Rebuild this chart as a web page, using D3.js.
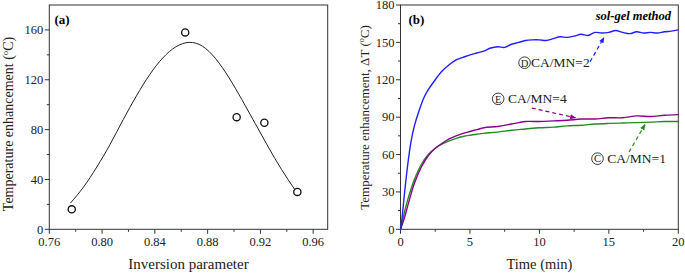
<!DOCTYPE html>
<html>
<head>
<meta charset="utf-8">
<script src="https://cdn.jsdelivr.net/npm/d3@7"></script>
<style>
    body { margin: 0; background: #fff; }
    svg { font-family: "Liberation Serif", "Times New Roman", serif; }
</style>
</head>
<body>
<svg id="chart" width="685" height="273"></svg>
<script>
const invParam = [0.777, 0.863, 0.902, 0.923, 0.948]
const tempEnh = [16, 158, 90, 85.5, 30]
const fitX = [0.776, 0.786, 0.796, 0.806, 0.816, 0.826, 0.836, 0.846, 0.856, 0.866, 0.876, 0.886, 0.896, 0.906, 0.916, 0.926, 0.936, 0.946]
const fitY = [21, 34, 50, 68, 88, 107, 124, 137.5, 146.5, 150, 147, 137, 122, 104, 85, 66, 48, 32]
const aTicks = [0.76, 0.80, 0.84, 0.88, 0.92, 0.96]
const aYTicks = [0, 40, 80, 120, 160]

// Panel (b): heating curves, time in min
const timeBlue = [0, 0.1, 0.3, 0.5, 0.75, 1, 1.33, 1.7, 2, 2.5, 3, 3.5, 4, 4.5, 5, 5.5, 6, 6.5, 7, 7.5, 8, 8.5, 9, 9.5, 10, 10.5, 11, 11.5, 12, 12.5, 13, 13.5, 14, 14.5, 15, 15.5, 16, 16.5, 17, 17.5, 18, 18.5, 19, 19.5, 20]
const blueVals = [0, 8, 30, 50, 70, 83, 95, 106, 112, 120, 127, 132, 136, 138, 140, 141.5, 143, 145.5, 146.5, 146, 148.5, 150, 151.5, 152, 152, 151.5, 153, 154.5, 154, 155, 156.5, 155.5, 158, 157.5, 158, 159.5, 158, 157, 158.5, 157.5, 158, 157.5, 158.5, 159, 160]
const timeSlow = [0, 0.25, 0.5, 0.75, 1, 1.5, 2, 2.5, 3, 3.5, 4, 4.5, 5, 5.5, 6, 7, 8, 9, 10, 11, 12, 13, 14, 15, 16, 17, 18, 19, 20]
const greenVals = [0, 12, 23, 32, 40, 52, 60, 65, 68.5, 71, 73, 74.5, 75.5, 76.3, 77, 78, 79.5, 80.5, 81.5, 82, 83, 83.5, 84.5, 85, 85.3, 85.6, 86, 86.5, 86.5]
const purpleVals = [0, 8, 18, 28, 37, 50, 59, 65, 69, 72.5, 75, 77, 78.5, 80, 81.5, 82.5, 84.5, 86.5, 86.5, 87, 87.5, 88.5, 88.5, 89.5, 89.5, 91, 90.5, 91.5, 92]
const bTicks = [0, 5, 10, 15, 20]
const bYTicks = [0, 30, 60, 90, 120, 150, 180]

// label + arrow anchors, in data units [tail, tip]
const notes = [
    { mark: "D", text: "CA/MN=2", at: [8.5, 130], tail: [13.65, 134.5], tip: [14.65, 154], color: "#1f1fff" },
    { mark: "E", text: " CA/MN=4", at: [6.6, 101], tail: [9.45, 97.3], tip: [12.6, 89.5], color: "#8a008a" },
    { mark: "C", text: " CA/MN=1", at: [13.75, 53], tail: [16.45, 62], tip: [17.6, 84], color: "#228b22" }
]

const svg = d3.select("#chart")
const axisCol = "#333"

const defs = svg.append("defs")
notes.forEach((n, i) => {
    defs.append("marker")
        .attr("id", "arr" + i)
        .attr("viewBox", "0 0 10 10")
        .attr("refX", 9).attr("refY", 5)
        .attr("markerWidth", 6).attr("markerHeight", 6)
        .attr("markerUnits", "userSpaceOnUse")
        .attr("orient", "auto")
        .append("path")
        .attr("d", "M0,1 L10,5 L0,9 Z")
        .attr("fill", n.color)
})

const drawFrame = (g, x, y, majorX, majorY, minorX, minorY, fmtX) => {
    const [x0, x1] = x.range()
    const [y0, y1] = y.range()
    g.append("rect")
        .attr("x", x0).attr("y", y1)
        .attr("width", x1 - x0).attr("height", y0 - y1)
        .attr("fill", "none").attr("stroke", axisCol).attr("stroke-width", 1)

    const xa = g.append("g")
    xa.selectAll("line.maj").data(majorX).join("line")
        .attr("x1", d => x(d)).attr("x2", d => x(d))
        .attr("y1", y0).attr("y2", y0 + 4.5)
        .attr("stroke", axisCol)
    xa.selectAll("line.min").data(minorX).join("line")
        .attr("class", "min")
        .attr("x1", d => x(d)).attr("x2", d => x(d))
        .attr("y1", y0).attr("y2", y0 + 2.5)
        .attr("stroke", axisCol)
    xa.selectAll("text").data(majorX).join("text")
        .attr("x", d => x(d)).attr("y", y0 + 17)
        .attr("text-anchor", "middle")
        .attr("font-size", 12.5)
        .attr("fill", "#222")
        .text(fmtX)

    const ya = g.append("g")
    ya.selectAll("line.maj").data(majorY).join("line")
        .attr("x1", x0 - 4.5).attr("x2", x0)
        .attr("y1", d => y(d)).attr("y2", d => y(d))
        .attr("stroke", axisCol)
    ya.selectAll("line.min").data(minorY).join("line")
        .attr("class", "min")
        .attr("x1", x0 - 2.5).attr("x2", x0)
        .attr("y1", d => y(d)).attr("y2", d => y(d))
        .attr("stroke", axisCol)
    ya.selectAll("text").data(majorY).join("text")
        .attr("x", x0 - 6).attr("y", d => y(d) + 4.3)
        .attr("text-anchor", "end")
        .attr("font-size", 12.5)
        .attr("fill", "#222")
        .text(d => d)
}

const yLabel = (g, cx, cy, text, size) => {
    const t = g.append("text")
        .attr("transform", `translate(${cx},${cy}) rotate(-90)`)
        .attr("text-anchor", "middle")
        .attr("font-size", size)
        .attr("fill", "#222")
    t.append("tspan").text(text + " (")
    t.append("tspan").attr("font-size", size * 0.62).attr("dy", -5).text("o")
    t.append("tspan").attr("dy", 5).text("C)")
}

// ---------- panel (a)
const xa = d3.scaleLinear().domain([0.76, 0.971]).range([49.3, 327.7])
const ya = d3.scaleLinear().domain([0, 180]).range([229.3, 5])
const ga = svg.append("g")

drawFrame(ga, xa, ya, aTicks, aYTicks,
    d3.range(0.78, 0.97, 0.04), d3.range(20, 180, 40), d => d3.format(".2f")(d))

ga.append("path")
    .datum(fitX.map((d, i) => [d, fitY[i]]))
    .attr("fill", "none")
    .attr("stroke", "#222")
    .attr("stroke-width", 1)
    .attr("d", d3.line().x(d => xa(d[0])).y(d => ya(d[1])).curve(d3.curveNatural))

ga.selectAll("circle").data(invParam).join("circle")
    .attr("cx", d => xa(d))
    .attr("cy", (d, i) => ya(tempEnh[i]))
    .attr("r", 3.6)
    .attr("fill", "none")
    .attr("stroke", "#111")
    .attr("stroke-width", 1.3)

ga.append("text").attr("x", 54.5).attr("y", 23.5)
    .attr("font-size", 13).attr("font-weight", "bold").text("(a)")
ga.append("text").attr("x", 188.5).attr("y", 269)
    .attr("text-anchor", "middle").attr("font-size", 15).attr("fill", "#222")
    .text("Inversion parameter")
yLabel(ga, 13, 124, "Temperature enhancement", 14)

// ---------- panel (b)
const xb = d3.scaleLinear().domain([0, 20]).range([400.5, 678.3])
const yb = d3.scaleLinear().domain([0, 180]).range([229.3, 5])
const gb = svg.append("g")

drawFrame(gb, xb, yb, bTicks, bYTicks,
    d3.range(2.5, 20, 5), d3.range(15, 180, 30), d => d)

const lineB = d3.line().x(d => xb(d[0])).y(d => yb(d[1])).curve(d3.curveCatmullRom)
const series = [
    { t: timeSlow, v: greenVals, color: "#228b22" },
    { t: timeSlow, v: purpleVals, color: "#8a008a" },
    { t: timeBlue, v: blueVals, color: "#1f1fff" }
]
gb.selectAll("path.curve").data(series).join("path")
    .attr("class", "curve")
    .attr("fill", "none")
    .attr("stroke", d => d.color)
    .attr("stroke-width", 1.4)
    .attr("d", d => lineB(d.t.map((x, i) => [x, d.v[i]])))

notes.forEach((n, i) => {
    gb.append("line")
        .attr("x1", xb(n.tail[0])).attr("y1", yb(n.tail[1]))
        .attr("x2", xb(n.tip[0])).attr("y2", yb(n.tip[1]))
        .attr("stroke", n.color)
        .attr("stroke-width", 1.2)
        .attr("stroke-dasharray", "4,3")
        .attr("marker-end", `url(#arr${i})`)
    const x0 = xb(n.at[0]), y0 = yb(n.at[1])
    // circled letter
    gb.append("circle")
        .attr("cx", x0 + 6).attr("cy", y0 - 4.6).attr("r", 5.8)
        .attr("fill", "none").attr("stroke", "#222").attr("stroke-width", 0.9)
    gb.append("text")
        .attr("x", x0 + 6).attr("y", y0 - 0.8)
        .attr("text-anchor", "middle")
        .attr("font-size", 10.5).attr("fill", "#222")
        .text(n.mark)
    gb.append("text")
        .attr("x", x0 + 12.5).attr("y", y0)
        .attr("font-size", 13.5).attr("fill", "#222")
        .attr("xml:space", "preserve")
        .text(n.text)
})

gb.append("text").attr("x", 408.5).attr("y", 23.5)
    .attr("font-size", 13).attr("font-weight", "bold").text("(b)")
gb.append("text").attr("x", 671).attr("y", 20)
    .attr("text-anchor", "end").attr("font-size", 12.5)
    .attr("font-weight", "bold").attr("font-style", "italic")
    .text("sol-gel method")
gb.append("text").attr("x", 539.4).attr("y", 269)
    .attr("text-anchor", "middle").attr("font-size", 14.5).attr("fill", "#222")
    .text("Time (min)")
yLabel(gb, 369, 117.5, "Temperature enhancement, ΔT", 13)
</script>
</body>
</html>
